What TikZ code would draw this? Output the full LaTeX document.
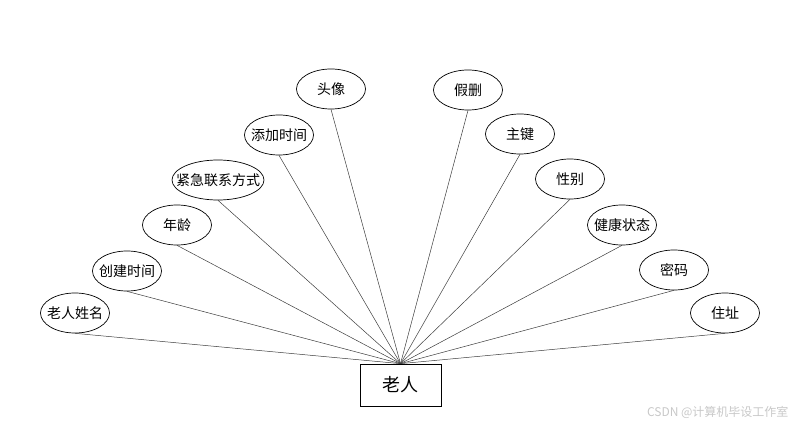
\documentclass[tikz,border=0pt]{standalone}
\usepackage{fontspec}
\setmainfont{Noto Sans CJK SC}
\usetikzlibrary{shapes.geometric}
\definecolor{linkgray}{RGB}{60,60,60}
\definecolor{markgray}{RGB}{200,200,200}

\begin{document}
\begin{tikzpicture}[x=1pt,y=-1pt,
    attr/.style={draw,ellipse,line width=0.7pt,minimum width=69pt,minimum height=40pt,
      inner sep=0pt,font=\fontsize{14}{16}\selectfont,
      execute at begin node={\hbox to 0pt\bgroup\hss},
      execute at end node={\hss\egroup}},
    entity/.style={draw,rectangle,line width=0.7pt,minimum width=81pt,minimum height=42pt,
      inner sep=0pt,font=\fontsize{18}{20}\selectfont},
    link/.style={draw=linkgray,line width=0.5pt}]
    \useasboundingbox (0,0) rectangle (800,430);
    \node[entity] (elder) at (400.5,385) {老人};
    \node[attr] (name) at (75,313) {老人姓名};
    \node[attr] (created) at (127,271) {创建时间};
    \node[attr] (age) at (177,225) {年龄};
    \node[attr,minimum width=92pt] (contact) at (218,180) {紧急联系方式};
    \node[attr] (added) at (279,135) {添加时间};
    \node[attr] (avatar) at (331,89) {头像};
    \node[attr] (softdel) at (468,90) {假删};
    \node[attr] (pkey) at (520,134) {主键};
    \node[attr] (gender) at (570,179) {性别};
    \node[attr] (health) at (622,225) {健康状态};
    \node[attr] (passwd) at (674,270) {密码};
    \node[attr] (addr) at (725,313) {住址};
    \draw[link] (name.south)--(elder.north);
    \draw[link] (created.south)--(elder.north);
    \draw[link] (age.south)--(elder.north);
    \draw[link] (contact.south)--(elder.north);
    \draw[link] (added.south)--(elder.north);
    \draw[link] (avatar.south)--(elder.north);
    \draw[link] (softdel.south)--(elder.north);
    \draw[link] (pkey.south)--(elder.north);
    \draw[link] (gender.south)--(elder.north);
    \draw[link] (health.south)--(elder.north);
    \draw[link] (passwd.south)--(elder.north);
    \draw[link] (addr.south)--(elder.north);
    \node[text=markgray,font=\fontsize{12}{14}\selectfont,anchor=east] (mark) at (792,412) {CSDN @计算机毕设工作室};
  \end{tikzpicture}
\end{document}
